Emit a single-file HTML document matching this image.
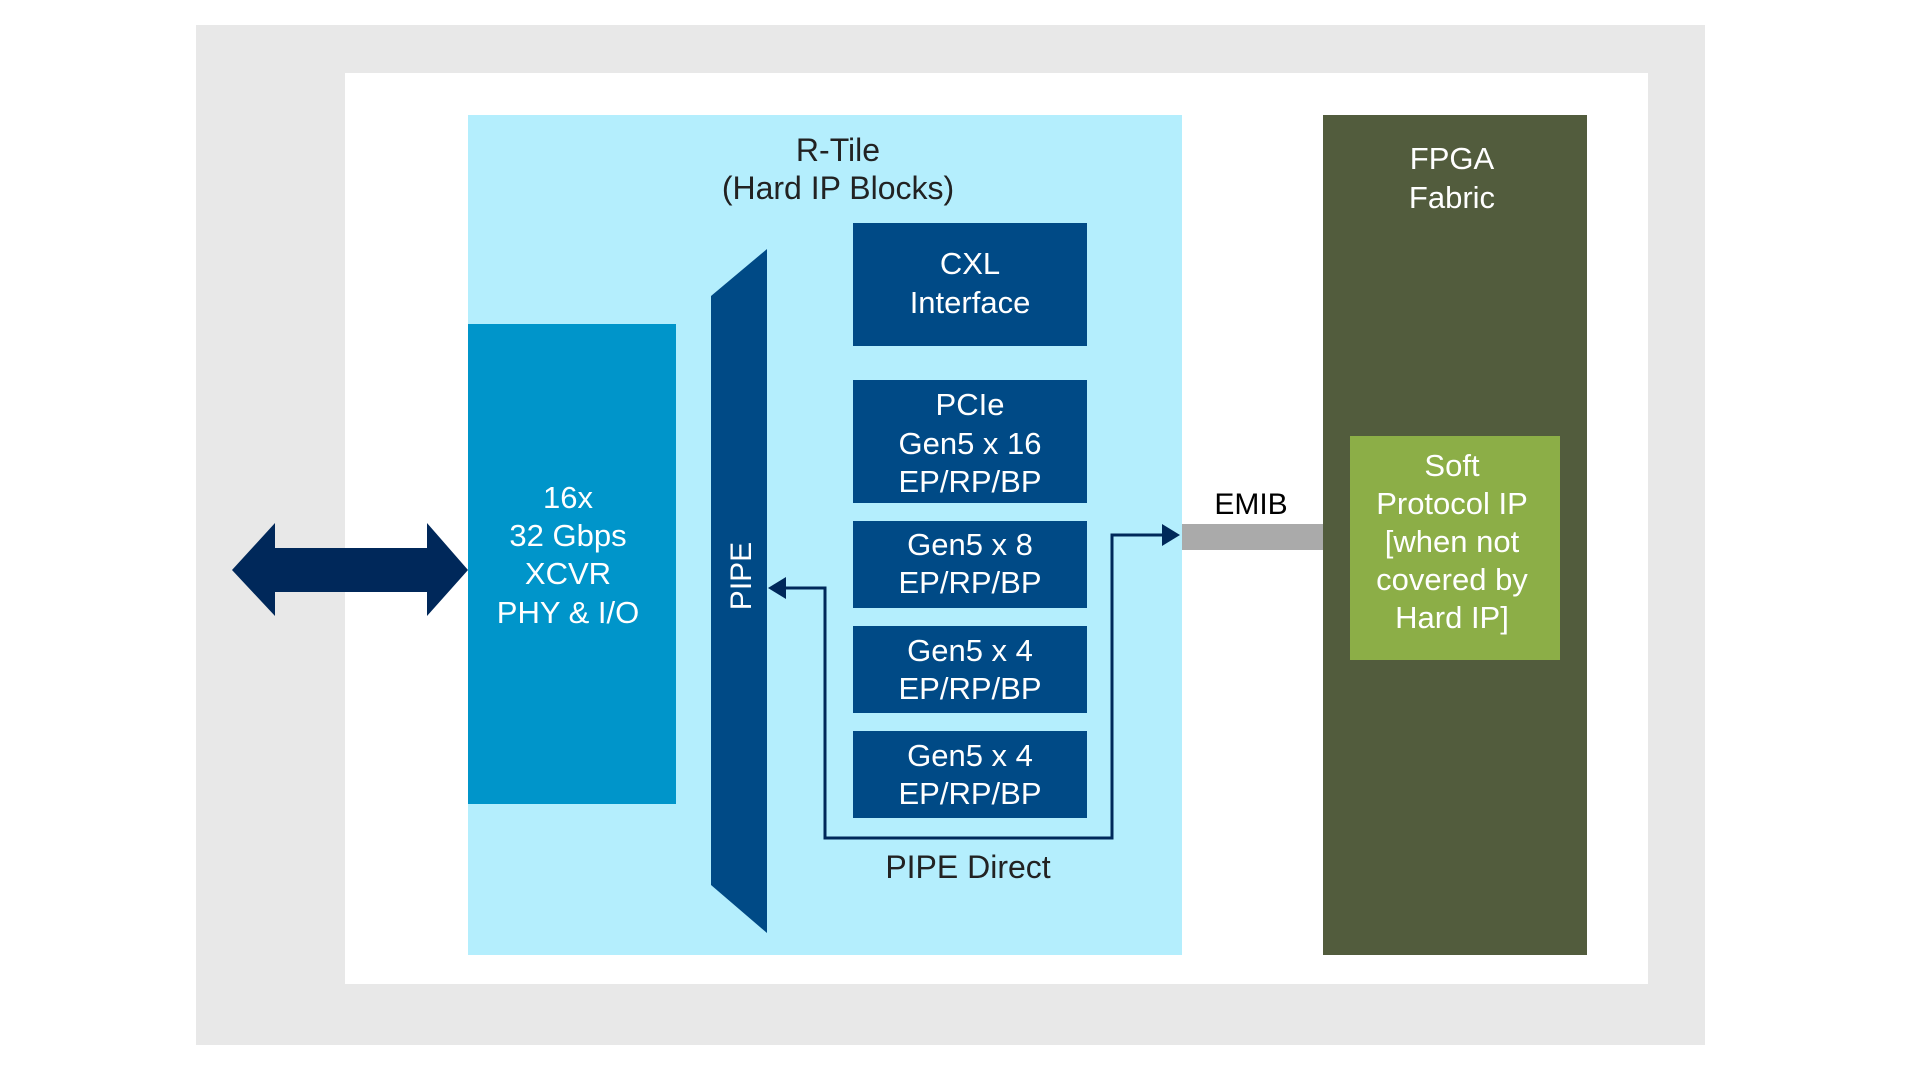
<!DOCTYPE html>
<html><head><meta charset="utf-8"><style>
html,body{margin:0;padding:0;background:#fff;}
svg{display:block;}
text{font-family:"Liberation Sans",sans-serif;font-size:32px;text-anchor:middle;}
.w{fill:#fff;}
.d{fill:#222;}
.n{font-size:31px;}
</style></head><body>
<svg width="1920" height="1080" viewBox="0 0 1920 1080" xmlns="http://www.w3.org/2000/svg">
<rect x="196" y="25" width="1509" height="1020" fill="#e8e8e8"/>
<rect x="345" y="73" width="1303" height="911" fill="#ffffff"/>
<rect x="468" y="115" width="714" height="840" fill="#b4eefd"/>
<rect x="1323" y="115" width="264" height="840" fill="#525c3d"/>
<rect x="1350" y="436" width="210" height="224" fill="#8cae47"/>
<rect x="1182" y="524" width="141" height="26" fill="#aaaaaa"/>
<rect x="468" y="324" width="208" height="480" fill="#0095ca"/>
<polygon points="711,296 767,249 767,933 711,885" fill="#004a86"/>
<rect x="853" y="223" width="234" height="123" fill="#004a86"/>
<rect x="853" y="380" width="234" height="123" fill="#004a86"/>
<rect x="853" y="521" width="234" height="87" fill="#004a86"/>
<rect x="853" y="626" width="234" height="87" fill="#004a86"/>
<rect x="853" y="731" width="234" height="87" fill="#004a86"/>
<polygon points="232,570 275,523 275,548 427,548 427,523 468,570 427,616 427,592 275,592 275,616" fill="#00285a"/>
<polyline points="786,588 825,588 825,838 1112,838 1112,535 1164,535" fill="none" stroke="#00285a" stroke-width="3"/>
<polygon points="768,588 786,577 786,599" fill="#00285a"/>
<polygon points="1180,535 1162,524 1162,546" fill="#00285a"/>
<text class="d" x="838" y="161">R-Tile</text>
<text class="d" x="838" y="199">(Hard IP Blocks)</text>
<text class="w n" x="970" y="274">CXL</text>
<text class="w n" x="970" y="313">Interface</text>
<text class="w n" x="970" y="415">PCIe</text>
<text class="w n" x="970" y="454">Gen5 x 16</text>
<text class="w n" x="970" y="492">EP/RP/BP</text>
<text class="w n" x="970" y="555">Gen5 x 8</text>
<text class="w n" x="970" y="593">EP/RP/BP</text>
<text class="w n" x="970" y="661">Gen5 x 4</text>
<text class="w n" x="970" y="699">EP/RP/BP</text>
<text class="w n" x="970" y="766">Gen5 x 4</text>
<text class="w n" x="970" y="804">EP/RP/BP</text>
<text class="w n" x="568" y="508">16x</text>
<text class="w n" x="568" y="546">32 Gbps</text>
<text class="w n" x="568" y="584">XCVR</text>
<text class="w n" x="568" y="623">PHY &amp; I/O</text>
<text class="w" transform="translate(751,576) rotate(-90)" x="0" y="0" style="font-size:30px">PIPE</text>
<text class="d" x="968" y="878">PIPE Direct</text>
<text x="1251" y="514" style="font-size:30px;fill:#000">EMIB</text>
<text class="w n" x="1452" y="169">FPGA</text>
<text class="w n" x="1452" y="208">Fabric</text>
<text class="w n" x="1452" y="476">Soft</text>
<text class="w n" x="1452" y="514">Protocol IP</text>
<text class="w n" x="1452" y="552">[when not</text>
<text class="w n" x="1452" y="590">covered by</text>
<text class="w n" x="1452" y="628">Hard IP]</text>
</svg>
</body></html>
